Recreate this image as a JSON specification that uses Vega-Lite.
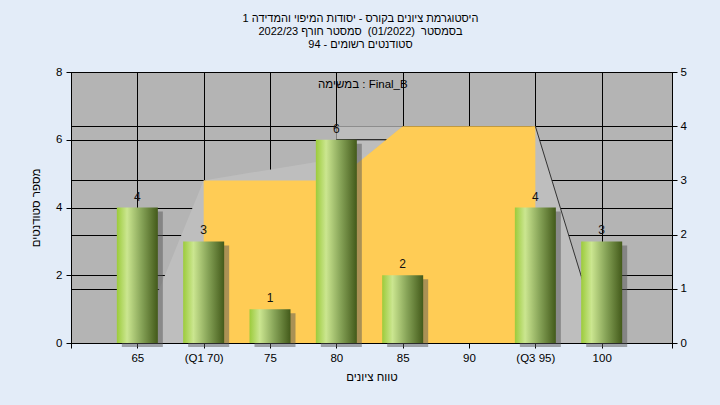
{
  "$schema": "https://vega.github.io/schema/vega-lite/v6.json",
  "width": 601,
  "height": 271,
  "autosize": "none",
  "padding": {"left": 71, "top": 72, "right": 48, "bottom": 62},
  "background": "#e3ecf8",
  "config": {
    "font": "Liberation Sans",
    "view": {"fill": "#b4b4b4", "stroke": "#000000", "strokeWidth": 1},
    "axis": {
      "gridColor": "#000000", "gridOpacity": 1, "gridWidth": 1,
      "domainColor": "#000000", "tickColor": "#000000", "tickSize": 5,
      "labelColor": "#000000", "titleColor": "#000000",
      "labelFont": "Liberation Sans", "titleFont": "Liberation Sans",
      "labelFontSize": 11.5, "titleFontSize": 11.5, "titleFontWeight": "normal"
    }
  },
  "title": {
    "text": ["היסטוגרמת ציונים בקורס - יסודות המיפוי והמדידה 1", "בסמסטר \u00a0(01/2022) \u00a0סמסטר חורף 2022/23", "סטודנטים רשומים - 94"],
    "fontSize": 11, "fontWeight": "normal", "color": "#000000", "lineHeight": 13,
    "anchor": "middle", "frame": "group", "offset": 16, "dx": -11
  },
  "datasets": {
    "bars": [
      {"x": 65, "count": 4},
      {"x": 70, "count": 3},
      {"x": 75, "count": 1},
      {"x": 80, "count": 6},
      {"x": 85, "count": 2},
      {"x": 90, "count": 0},
      {"x": 95, "count": 4},
      {"x": 100, "count": 3}
    ],
    "shape": [
      {"part": "mid", "x": 80, "v": 4, "v2": 3},
      {"part": "mid", "x": 85, "v": 4, "v2": 4},
      {"part": "left", "x": 65, "v": 0},
      {"part": "left", "x": 70, "v": 3},
      {"part": "box", "x": 70, "v": 3},
      {"part": "box", "x": 80, "v": 3},
      {"part": "box", "x": 85, "v": 4},
      {"part": "box", "x": 95, "v": 4},
      {"part": "right", "x": 95, "v": 4},
      {"part": "right", "x": 100, "v": 0}
    ]
  },
  "layer": [
    {
      "data": {"name": "shape"},
      "layer": [
        {
          "transform": [{"filter": "datum.part == 'mid'"}],
          "mark": {"type": "area", "color": "#bdbdbd"},
          "encoding": {
            "x": {"field": "x", "type": "quantitative", "scale": {"domain": [60, 105.3], "nice": false, "zero": false, "padding": 0},
              "axis": {"values": [60, 65, 70, 75, 80, 85, 90, 95, 100, 105.3], "title": "טווח ציונים", "labelExpr": "datum.value == 70 ? '(Q1 70)' : datum.value == 95 ? '(Q3 95)' : (datum.value < 62 || datum.value > 102) ? '' : datum.label", "labelPadding": 4, "titlePadding": 8}},
            "y": {"field": "v", "type": "quantitative", "scale": {"domain": [0, 5], "nice": false},
              "axis": {"orient": "right", "values": [0, 1, 2, 3, 4, 5], "title": null, "grid": true, "labelPadding": 3}},
            "y2": {"field": "v2"}
          }
        },
        {
          "data": {"values": [{}]},
          "mark": {"type": "rule", "color": "#000000", "strokeWidth": 1},
          "encoding": {
            "x": {"datum": 80, "type": "quantitative"},
            "x2": {"datum": 85},
            "y": {"datum": 3.75, "type": "quantitative"}
          }
        },
        {
          "transform": [{"filter": "datum.part == 'left' || datum.part == 'right'"}],
          "mark": {"type": "area", "color": "#bebebe"},
          "encoding": {
            "x": {"field": "x", "type": "quantitative"},
            "y": {"field": "v", "type": "quantitative"},
            "detail": {"field": "part"}
          }
        },
        {
          "transform": [{"filter": "datum.part == 'box'"}],
          "mark": {"type": "area", "color": "#ffcc55"},
          "encoding": {
            "x": {"field": "x", "type": "quantitative"},
            "y": {"field": "v", "type": "quantitative"}
          }
        },
        {
          "transform": [{"filter": "datum.part == 'right'"}],
          "mark": {"type": "line", "color": "#333333", "strokeWidth": 1},
          "encoding": {
            "x": {"field": "x", "type": "quantitative"},
            "y": {"field": "v", "type": "quantitative"}
          }
        },
        {
          "data": {"values": [{}]},
          "mark": {"type": "text", "text": "במשימה : Final_B", "fontSize": 11.5, "color": "#000000", "font": "Liberation Sans"},
          "encoding": {
            "x": {"datum": 82, "type": "quantitative"},
            "y": {"datum": 4.76, "type": "quantitative"}
          }
        }
      ]
    },
    {
      "data": {"name": "bars"},
      "layer": [
        {
          "mark": {"type": "bar", "size": 41, "color": "#555555", "opacity": 0.5, "xOffset": 5, "yOffset": 4},
          "encoding": {
            "x": {"field": "x", "type": "quantitative"},
            "y": {"field": "count", "type": "quantitative", "scale": {"domain": [0, 8], "nice": false},
              "axis": {"orient": "left", "values": [0, 2, 4, 6, 8], "title": "מספר סטודנטים", "grid": true, "labelPadding": 4, "titlePadding": 14}}
          }
        },
        {
          "mark": {"type": "bar", "size": 41, "color": {"gradient": "linear", "x1": 0, "x2": 1, "y1": 0, "y2": 0,
            "stops": [{"offset": 0, "color": "#9ccb3b"}, {"offset": 0.25, "color": "#cbe690"}, {"offset": 0.6, "color": "#87a458"}, {"offset": 1, "color": "#435a1a"}]}},
          "encoding": {
            "x": {"field": "x", "type": "quantitative"},
            "y": {"field": "count", "type": "quantitative"}
          }
        },
        {
          "transform": [{"filter": "datum.count > 0"}],
          "mark": {"type": "text", "fontSize": 12, "color": "#111111", "baseline": "bottom", "dy": -4},
          "encoding": {
            "x": {"field": "x", "type": "quantitative"},
            "y": {"field": "count", "type": "quantitative"},
            "text": {"field": "count", "type": "quantitative"}
          }
        }
      ]
    }
  ],
  "resolve": {"scale": {"y": "independent"}, "axis": {"y": "independent"}}
}
